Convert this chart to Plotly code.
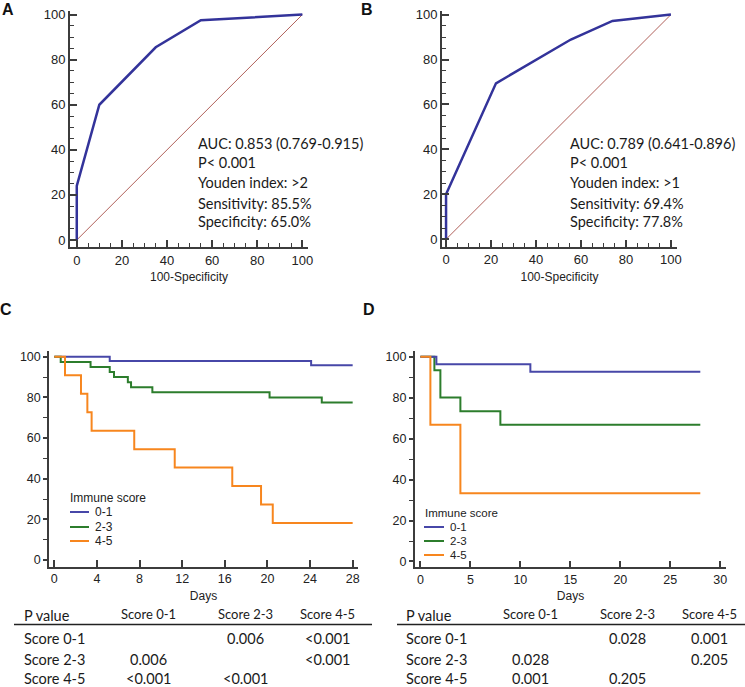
import plotly.graph_objects as go

W, H = 745, 687

# ---------------- data ----------------
# ROC A
a_fpr = [0, 0, 10, 35, 55, 100]
a_tpr = [0, 24, 60, 85.5, 97.5, 100]
a_text = ["AUC: 0.853 (0.769-0.915)", "P< 0.001", "Youden index: >2",
          "Sensitivity: 85.5%", "Specificity: 65.0%"]
# ROC B
b_fpr = [0, 0, 22.2, 55.5, 74, 100]
b_tpr = [0, 20, 69.4, 88.9, 97.2, 100]
b_text = ["AUC: 0.789 (0.641-0.896)", "P< 0.001", "Youden index: >1",
          "Sensitivity: 69.4%", "Specificity: 77.8%"]
diag = [0, 100]

# KM C
c_days_01 = [0, 5.2, 24.1, 28]
c_surv_01 = [100, 97.9, 95.8, 95.8]
c_days_23 = [0, 0.6, 3.4, 5.2, 5.6, 6.9, 7.2, 9.2, 20.2, 25.1, 28]
c_surv_23 = [100, 97.5, 95, 92.5, 90, 87.5, 85, 82.5, 80, 77.5, 77.5]
c_days_45 = [0, 1.0, 2.5, 3.1, 3.5, 7.5, 11.3, 16.7, 19.4, 20.5, 28]
c_surv_45 = [100, 90.9, 81.8, 72.7, 63.6, 54.5, 45.5, 36.4, 27.3, 18.2, 18.2]
# KM D
d_days_01 = [0, 1.6, 11.0, 28]
d_surv_01 = [100, 96.3, 92.6, 92.6]
d_days_23 = [0, 1.4, 2.0, 4.0, 8.0, 28]
d_surv_23 = [100, 93.3, 80, 73.3, 66.7, 66.7]
d_days_45 = [0, 1.0, 4.0, 28]
d_surv_45 = [100, 66.7, 33.3, 33.3]

groups = ["0-1", "2-3", "4-5"]
legend_title = "Immune score"

# tables
tbl_head = ["P value", "Score 0-1", "Score 2-3", "Score 4-5"]
tbl_rows = ["Score 0-1", "Score 2-3", "Score 4-5"]
c_pvals = [["", "0.006", "<0.001"], ["0.006", "", "<0.001"], ["<0.001", "<0.001", ""]]
d_pvals = [["", "0.028", "0.001"], ["0.028", "", "0.205"], ["0.001", "0.205", ""]]

# ---------------- styles ----------------
ROC_BLUE = "#33339a"
DIAG = "#b0605a"
KM_COL = ["#4747a8", "#2c7d2c", "#f7861e"]
AX = "#3c3c3c"
TICKFONT = "Liberation Sans, Arial, sans-serif"
TXTFONT = "Lato, Calibri, sans-serif"


def fx(x):
    return x / W


def fy(y):
    return 1 - y / H


fig = go.Figure()

# ROC traces
fig.add_trace(go.Scatter(x=diag, y=diag, mode="lines", line=dict(color=DIAG, width=1),
                         xaxis="x", yaxis="y", hoverinfo="skip"))
fig.add_trace(go.Scatter(x=a_fpr, y=a_tpr, mode="lines", line=dict(color=ROC_BLUE, width=2.5),
                         xaxis="x", yaxis="y"))
fig.add_trace(go.Scatter(x=diag, y=diag, mode="lines", line=dict(color=DIAG, width=1),
                         xaxis="x2", yaxis="y2", hoverinfo="skip"))
fig.add_trace(go.Scatter(x=b_fpr, y=b_tpr, mode="lines", line=dict(color=ROC_BLUE, width=2.5),
                         xaxis="x2", yaxis="y2"))

# KM traces
for days, surv, col, name in [(c_days_01, c_surv_01, KM_COL[0], groups[0]),
                              (c_days_23, c_surv_23, KM_COL[1], groups[1]),
                              (c_days_45, c_surv_45, KM_COL[2], groups[2])]:
    fig.add_trace(go.Scatter(x=days, y=surv, mode="lines", line_shape="hv", name=name,
                             line=dict(color=col, width=2), xaxis="x3", yaxis="y3"))
for days, surv, col, name in [(d_days_23, d_surv_23, KM_COL[1], groups[1]),
                              (d_days_01, d_surv_01, KM_COL[0], groups[0]),
                              (d_days_45, d_surv_45, KM_COL[2], groups[2])]:
    fig.add_trace(go.Scatter(x=days, y=surv, mode="lines", line_shape="hv", name=name,
                             line=dict(color=col, width=2), xaxis="x4", yaxis="y4"))


def axis(dom_px, rng, dtick, minor_dtick, ticks, lw, fsize, horiz, anchor, title=None):
    if horiz:
        dom = [fx(dom_px[0]), fx(dom_px[1])]
    else:
        dom = [fy(dom_px[1]), fy(dom_px[0])]
    d = dict(domain=dom, range=rng, anchor=anchor, showgrid=False, zeroline=False,
             automargin=False,
             showline=True, linecolor=AX, linewidth=lw, ticks=ticks, ticklen=7,
             tickwidth=1.5, tickcolor=AX, dtick=dtick, tick0=0,
             tickfont=dict(family=TICKFONT, size=fsize, color="#222"), fixedrange=True)
    if minor_dtick:
        d["minor"] = dict(dtick=minor_dtick, tick0=0, ticks=ticks, ticklen=4,
                          tickwidth=1, tickcolor=AX, showgrid=False)
    if title:
        d["title"] = dict(text=title, standoff=6,
                          font=dict(family=TICKFONT, size=12, color="#222"))
    return d


layout = dict(
    width=W, height=H, margin=dict(l=0, r=0, t=0, b=0, autoexpand=False),
    paper_bgcolor="white", plot_bgcolor="white", showlegend=False,
    xaxis=axis([70, 308], [-3, 102.5], 20, 5, "inside", 2, 13, True, "y", "100-Specificity"),
    yaxis=axis([11, 247], [-3.1, 101.6], 20, 5, "inside", 2, 13, False, "x"),
    xaxis2=axis([442, 677], [-1.8, 102.7], 20, 5, "inside", 2, 13, True, "y2", "100-Specificity"),
    yaxis2=axis([11, 246.7], [-3.3, 101.6], 20, 5, "inside", 2, 13, False, "x2"),
    xaxis3=axis([49, 358], [-0.5, 28.5], 4, None, "inside", 1.5, 12.5, True, "y3", "Days"),
    yaxis3=axis([350.7, 566.7], [-3.3, 103], 20, 10, "outside", 1.5, 12.5, False, "x3"),
    xaxis4=axis([414.7, 726.3], [-0.57, 30.6], 5, None, "inside", 1.5, 12.5, True, "y4", "Days"),
    yaxis4=axis([350.7, 567.3], [-2.84, 102.9], 20, 10, "outside", 1.5, 12.5, False, "x4"),
)
for k in ["yaxis3", "yaxis4"]:
    layout[k]["ticklen"] = 4

fig.update_layout(**layout)

ann = []
shapes = []

# panel letters
for letter, x, y in [("A", 8, 9), ("B", 367, 9), ("C", 6, 309), ("D", 369, 309)]:
    ann.append(dict(text="<b>%s</b>" % letter, x=fx(x), y=fy(y), xref="paper", yref="paper",
                    showarrow=False, xanchor="center", yanchor="middle",
                    font=dict(family="Liberation Sans, Arial", size=16, color="#111")))

# ROC stats text
line_y = [143, 162, 182, 203, 222]
for texts, x0 in [(a_text, 196), (b_text, 568)]:
    for t, yy in zip(texts, line_y):
        ann.append(dict(text=t, x=fx(x0), y=fy(yy), xref="paper", yref="paper",
                        showarrow=False, xanchor="left", yanchor="middle",
                        font=dict(family=TXTFONT, size=14.5, color="#1a1a1a")))

# manual legends for KM panels
for title_xy, rows_y, x_line, fs in [((68, 498), [512, 527, 541], (70, 89), 12),
                                     ((423, 513), [527, 541, 555], (424, 444), 11.5)]:
    ann.append(dict(text=legend_title, x=fx(title_xy[0]), y=fy(title_xy[1]), xref="paper",
                    yref="paper", showarrow=False, xanchor="left", yanchor="middle",
                    font=dict(family=TICKFONT, size=fs, color="#222")))
    for g, col, yy in zip(groups, KM_COL, rows_y):
        shapes.append(dict(type="line", xref="paper", yref="paper", x0=fx(x_line[0]),
                           x1=fx(x_line[1]), y0=fy(yy), y1=fy(yy),
                           line=dict(color=col, width=2)))
        ann.append(dict(text=g, x=fx(x_line[1] + 4), y=fy(yy), xref="paper", yref="paper",
                        showarrow=False, xanchor="left", yanchor="middle",
                        font=dict(family=TICKFONT, size=fs, color="#222")))

# tables
for pvals, left, line_x, cols in [(c_pvals, 21.5, (14, 372), [148, 245, 327]),
                                  (d_pvals, 404, (397, 745), [530, 627.5, 709.5])]:
    head_y = 615
    ann.append(dict(text=tbl_head[0], x=fx(left), y=fy(head_y), xref="paper", yref="paper",
                    showarrow=False, xanchor="left", yanchor="middle",
                    font=dict(family=TXTFONT, size=14.5, color="#1a1a1a")))
    for h, cx in zip(tbl_head[1:], cols):
        ann.append(dict(text=h, x=fx(cx), y=fy(head_y - 1), xref="paper", yref="paper",
                        showarrow=False, xanchor="center", yanchor="middle",
                        font=dict(family=TXTFONT, size=13, color="#1a1a1a")))
    shapes.append(dict(type="line", xref="paper", yref="paper", x0=fx(line_x[0]),
                       x1=fx(line_x[1]), y0=fy(624.5), y1=fy(624.5),
                       line=dict(color="#222", width=1.3)))
    for r, (rname, rowvals) in enumerate(zip(tbl_rows, pvals)):
        ry = [638.5, 659.5, 678.5][r]
        ann.append(dict(text=rname, x=fx(left), y=fy(ry), xref="paper", yref="paper",
                        showarrow=False, xanchor="left", yanchor="middle",
                        font=dict(family=TXTFONT, size=14.5, color="#1a1a1a")))
        for v, cx in zip(rowvals, cols):
            if v:
                ann.append(dict(text=v, x=fx(cx), y=fy(ry), xref="paper", yref="paper",
                                showarrow=False, xanchor="center", yanchor="middle",
                                font=dict(family=TXTFONT, size=14.5, color="#1a1a1a")))

fig.update_layout(annotations=ann, shapes=shapes)
fig.write_html("out.html", config={"displayModeBar": False},
               post_script="document.body.style.margin='0';document.body.style.overflow='hidden';")
